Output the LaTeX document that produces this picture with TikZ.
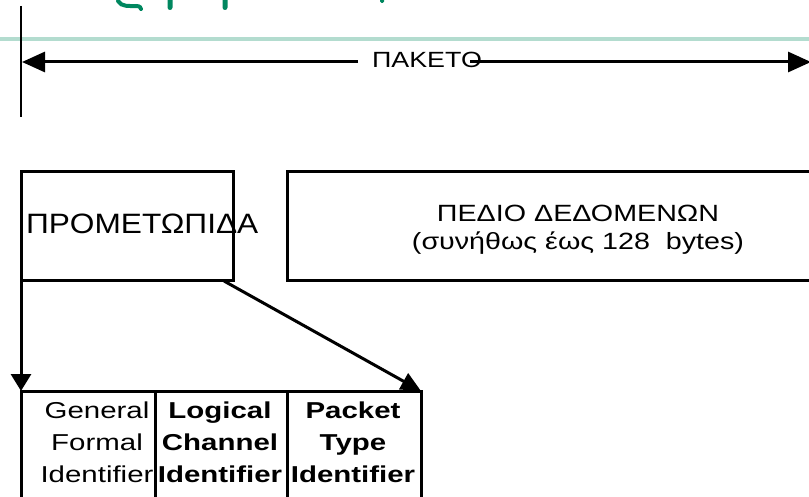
\documentclass[tikz,border=0pt]{standalone}
\usepackage{fontspec}
\setmainfont{Liberation Sans}[FakeStretch=1.22]
\newfontfamily\hdrfont{Liberation Sans}[FakeStretch=1.13]
\newfontfamily\fieldfont{Liberation Sans}[FakeStretch=1.28]
\usetikzlibrary{arrows.meta}
\definecolor{rulegreen}{HTML}{B3DCCF}
\definecolor{titlegreen}{HTML}{00875F}

\begin{document}
\begin{tikzpicture}[x=1pt,y=-1pt,
  box/.style={draw, line width=3pt, inner sep=0pt, outer sep=0pt, anchor=north west},
  wire/.style={line width=3pt},
  bigtip/.style={-{Triangle[length=23pt,width=20pt]}},
  downtip/.style={-{Triangle[length=17pt,width=20pt]}},
  slanttip/.style={-{Triangle[length=20pt,width=18pt]}},
  txt/.style={inner sep=0pt, outer sep=0pt, align=center},
  fieldtxt/.style={txt, font=\fieldfont\fontsize{23}{32}\selectfont},
  boldfieldtxt/.style={txt, font=\fieldfont\fontsize{23}{32}\selectfont\bfseries},
]
\useasboundingbox (0,0) rectangle (809,497);

% remains of the slide title and the title rule
\draw[titlegreen, line width=4pt, line cap=round]
  (118,1) .. controls (121,7) and (130,6) .. (136,6)
  .. controls (140,6) and (141,8) .. (141,9);
\fill[titlegreen, rounded corners=2.5pt] (167.5,-6) rectangle (172.5,10);
\fill[titlegreen, rounded corners=2.5pt] (222.5,-6) rectangle (227.5,10);
\fill[titlegreen, rounded corners=1.5pt] (380,-6) rectangle (384,3);
\fill[rulegreen] (0,37) rectangle (809,41);

% packet extent
\coordinate (vtop) at (21,6);
\coordinate (vbot) at (21,117);
\draw[line width=2pt] (vtop) -- (vbot);
\coordinate (tipL) at (22,62);
\coordinate (tipR) at (811,62);
\node[txt, anchor=base west, font=\fontsize{22}{26}\selectfont] (pk) at (372,68) {ΠΑΚΕΤΟ};
\draw[wire, bigtip] ([xshift=-14pt]pk.west |- tipL) -- (tipL);
\draw[wire, bigtip] ([xshift=-12pt]pk.east |- tipR) -- (tipR);

% header and data field
\node[box, minimum width=212pt, minimum height=109pt] (hdr) at (21,172) {};
\node[txt, anchor=base west, font=\hdrfont\fontsize{28}{32}\selectfont] (hdrtxt) at (26,234) {ΠΡΟΜΕΤΩΠΙΔΑ};
\node[box, minimum width=540pt, minimum height=109pt] (data) at (287,172) {};
\node[txt, font=\fontsize{23.5}{28}\selectfont] (datatxt) at (578,230)
  {ΠΕΔΙΟ ΔΕΔΟΜΕΝΩΝ\\(συνήθως έως 128\ \ bytes)};

% header fields
\node[box, minimum width=134pt, minimum height=112pt] (gfi) at (21,391) {};
\node[box, minimum width=132pt, minimum height=112pt] (lci) at (155,391) {};
\node[box, minimum width=134pt, minimum height=112pt] (pti) at (287,391) {};
\node[fieldtxt] (gfitxt) at (97,442) {General\\Formal\\Identifier};
\node[boldfieldtxt] (lcitxt) at (220,442) {Logical\\Channel\\Identifier};
\node[boldfieldtxt] (ptitxt) at (353,442) {Packet\\Type\\Identifier};

% header expands into its fields
\draw[wire, downtip] (hdr.south west) -- (gfi.north west);
\draw[wire, slanttip] ([xshift=-9pt]hdr.south east) -- (pti.north east);
\end{tikzpicture}
\end{document}
